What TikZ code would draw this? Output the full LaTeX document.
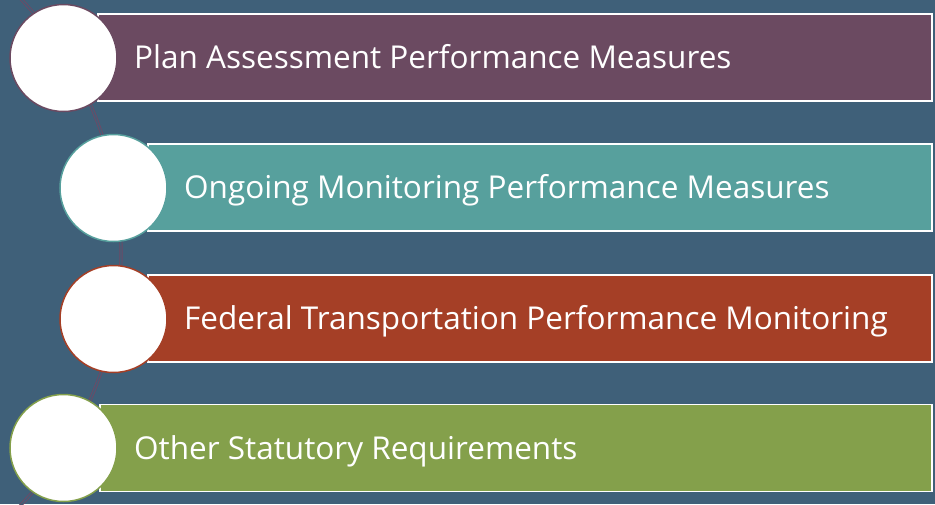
\documentclass[tikz,border=0pt]{standalone}
\usepackage{fontspec}
\setmainfont{Open Sans}
\definecolor{bgc}{HTML}{3F6079}
\definecolor{cpurple}{HTML}{6B4A61}
\definecolor{cteal}{HTML}{57A09D}
\definecolor{crust}{HTML}{A53F26}
\definecolor{cgreen}{HTML}{84A04B}
\definecolor{arcc}{HTML}{6E4A66}
\tikzset{
  bar/.style={draw=white, line width=1.5pt, fill=#1, rectangle, inner sep=0pt, minimum height=87pt, anchor=west},
  disc/.style={draw=#1, line width=1.5pt, fill=white, circle, inner sep=0pt, minimum size=107pt},
  lbl/.style={text=white, anchor=base west, inner sep=0pt, font=\fontsize{31.5}{38}\selectfont},
}
\begin{document}
\begin{tikzpicture}[x=1pt,y=-1pt]
\useasboundingbox (0,0) rectangle (935,504);
\fill[bgc] (0,0) rectangle (935,504);
\clip (0,0) rectangle (935,504);
\coordinate (C) at (-249,252);
\draw[arcc, line width=3.2pt] ([shift={(46:370pt)}]C) arc[start angle=46, end angle=-46, radius=370pt];
\draw[bgc, line width=1.4pt] ([shift={(46:370pt)}]C) arc[start angle=46, end angle=-46, radius=370pt];
% bars
\node[bar=cpurple, minimum width=834pt] (b1) at (97,57.5) {};
\node[bar=cteal, minimum width=784pt] (b2) at (147,187.5) {};
\node[bar=crust, minimum width=784pt] (b3) at (147,318.5) {};
\node[bar=cgreen, minimum width=832pt] (b4) at (99,448) {};
% labels
\node[lbl] (t1) at (134,68.5) {Plan Assessment Performance Measures};
\node[lbl] (t2) at (184,198.5) {Ongoing Monitoring Performance Measures};
\node[lbl] (t3) at (184,329.5) {Federal Transportation Performance Monitoring};
\node[lbl] (t4) at (134,459) {Other Statutory Requirements};
% circles
\node[disc=cpurple] (c1) at (63.5,58) {};
\node[disc=cteal] (c2) at (113.5,188) {};
\node[disc=crust] (c3) at (113.5,319) {};
\node[disc=cgreen] (c4) at (63.5,448) {};
\end{tikzpicture}
\end{document}
